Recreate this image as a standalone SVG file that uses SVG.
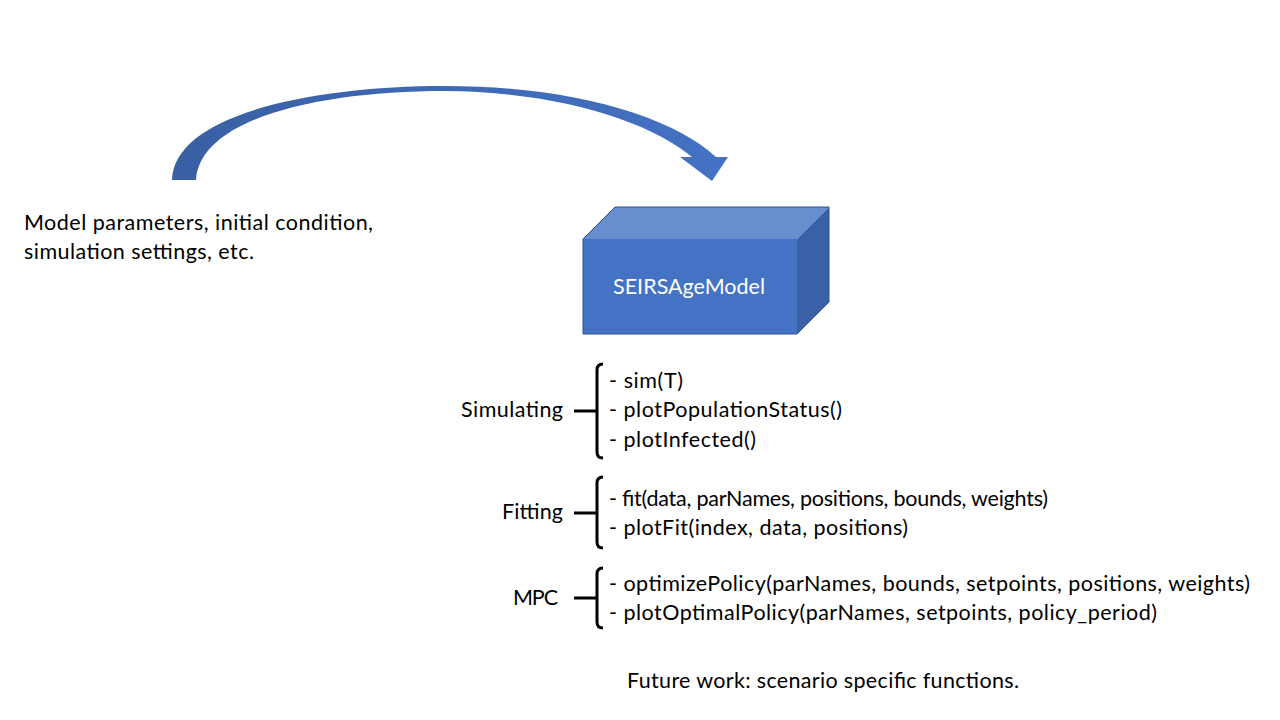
<svg xmlns="http://www.w3.org/2000/svg" width="1280" height="720" viewBox="0 0 1280 720">
<defs>
<linearGradient id="arrowGrad" x1="0" y1="0" x2="1" y2="0">
<stop offset="0" stop-color="#3A5FA3"/>
<stop offset="1" stop-color="#4472C4"/>
</linearGradient>
</defs>
<style>
.t{font-family:Lato,"Open Sans","Liberation Sans",sans-serif;font-size:21.5px;fill:#000}
.w{font-family:Lato,"Open Sans","Liberation Sans",sans-serif;font-size:21.5px;fill:#fff}
.br{fill:none;stroke:#000;stroke-width:3;stroke-linecap:butt;stroke-linejoin:round}
</style>
<rect width="1280" height="720" fill="#fff"/>
<g id="connectors">
<path id="curvedArrow" fill="url(#arrowGrad)" d="M172,180 C174,115 310,86 445,86 C570,86 670,115 716,157 L728,157 L712,181 L680,157 L692,157 C650,122 560,92 445,91 C320,91 200,118 196,180 Z"/>
</g>
<g id="inputs">
<text class="t" x="24" y="230" textLength="349">Model parameters, initial condition,</text>
<text class="t" x="24" y="259" textLength="230">simulation settings, etc.</text>
</g>
<g id="model">
<polygon points="583,239 615,207 829,207 797,239" fill="#698ED0"/>
<polygon points="797,239 829,207 829,302 797,334" fill="#3A61A8"/>
<rect x="583" y="239" width="214" height="95" fill="#4472C4"/>
<polygon points="583,239 615,207 829,207 829,302 797,334 583,334" fill="none" stroke="#2F528F" stroke-width="1"/>
<text class="w" x="613" y="294" textLength="152">SEIRSAgeModel</text>
</g>
<g id="simulating">
<text class="t" x="461" y="417" textLength="102">Simulating</text>
<path class="br" d="M603,364 Q597,364 597,370 L597,452 Q597,458 603,458 M574,411 L597,411"/>
<text class="t" x="609" y="388" textLength="74">- sim(T)</text>
<text class="t" x="609" y="417" textLength="233">- plotPopulationStatus()</text>
<text class="t" x="609" y="447" textLength="147">- plotInfected()</text>
</g>
<g id="fitting">
<text class="t" x="502" y="519" textLength="61">Fitting</text>
<path class="br" d="M603,477 Q597,477 597,483 L597,542 Q597,548 603,548 M574,513 L597,513"/>
<text class="t" x="609" y="506" textLength="439">- fit(data, parNames, positions, bounds, weights)</text>
<text class="t" x="609" y="535" textLength="299">- plotFit(index, data, positions)</text>
</g>
<g id="mpc">
<text class="t" x="513" y="605" textLength="45">MPC</text>
<path class="br" d="M603,568 Q597,568 597,574 L597,622 Q597,628 603,628 M574,598 L597,598"/>
<text class="t" x="609" y="591" textLength="641">- optimizePolicy(parNames, bounds, setpoints, positions, weights)</text>
<text class="t" x="609" y="620" textLength="548">- plotOptimalPolicy(parNames, setpoints, policy_period)</text>
</g>
<g id="future">
<text class="t" x="627" y="688" textLength="392">Future work: scenario specific functions.</text>
</g>
</svg>
